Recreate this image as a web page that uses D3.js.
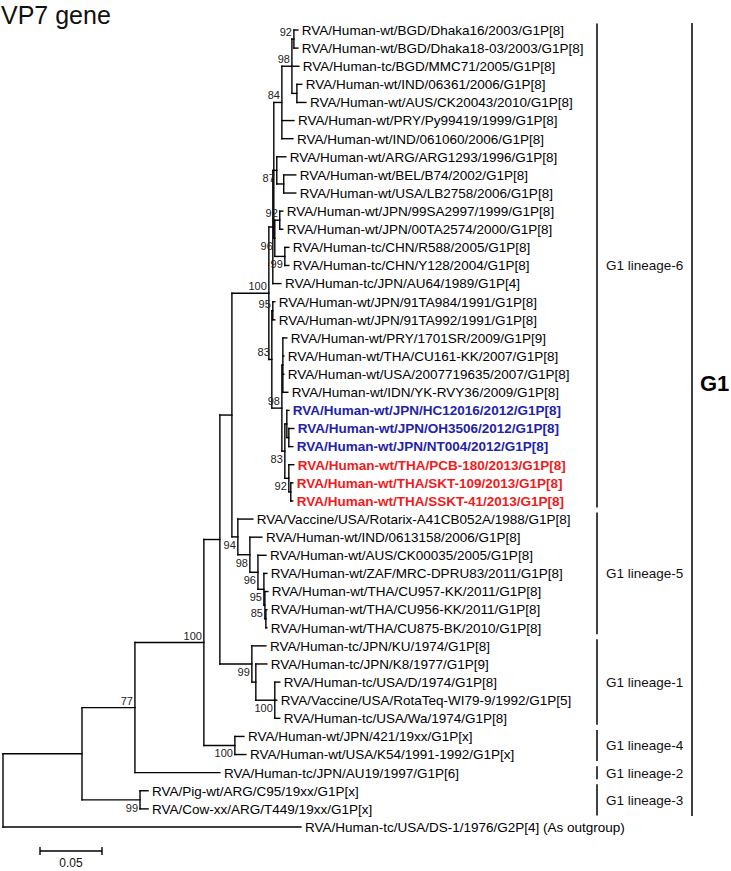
<!DOCTYPE html>
<html>
<head>
<meta charset="utf-8">
<script src="https://cdn.jsdelivr.net/npm/d3@7"></script>
<style>
  body { margin: 0; background: #fff; }
  svg { display: block; font-family: "Liberation Sans", Arial, sans-serif; }
</style>
</head>
<body>
<div id="tree"></div>
<script>
// strain names, top to bottom
var taxa = [
  "RVA/Human-wt/BGD/Dhaka16/2003/G1P[8]",
  "RVA/Human-wt/BGD/Dhaka18-03/2003/G1P[8]",
  "RVA/Human-tc/BGD/MMC71/2005/G1P[8]",
  "RVA/Human-wt/IND/06361/2006/G1P[8]",
  "RVA/Human-wt/AUS/CK20043/2010/G1P[8]",
  "RVA/Human-wt/PRY/Py99419/1999/G1P[8]",
  "RVA/Human-wt/IND/061060/2006/G1P[8]",
  "RVA/Human-wt/ARG/ARG1293/1996/G1P[8]",
  "RVA/Human-wt/BEL/B74/2002/G1P[8]",
  "RVA/Human-wt/USA/LB2758/2006/G1P[8]",
  "RVA/Human-wt/JPN/99SA2997/1999/G1P[8]",
  "RVA/Human-wt/JPN/00TA2574/2000/G1P[8]",
  "RVA/Human-tc/CHN/R588/2005/G1P[8]",
  "RVA/Human-tc/CHN/Y128/2004/G1P[8]",
  "RVA/Human-tc/JPN/AU64/1989/G1P[4]",
  "RVA/Human-wt/JPN/91TA984/1991/G1P[8]",
  "RVA/Human-wt/JPN/91TA992/1991/G1P[8]",
  "RVA/Human-wt/PRY/1701SR/2009/G1P[9]",
  "RVA/Human-wt/THA/CU161-KK/2007/G1P[8]",
  "RVA/Human-wt/USA/2007719635/2007/G1P[8]",
  "RVA/Human-wt/IDN/YK-RVY36/2009/G1P[8]",
  "RVA/Human-wt/JPN/HC12016/2012/G1P[8]",
  "RVA/Human-wt/JPN/OH3506/2012/G1P[8]",
  "RVA/Human-wt/JPN/NT004/2012/G1P[8]",
  "RVA/Human-wt/THA/PCB-180/2013/G1P[8]",
  "RVA/Human-wt/THA/SKT-109/2013/G1P[8]",
  "RVA/Human-wt/THA/SSKT-41/2013/G1P[8]",
  "RVA/Vaccine/USA/Rotarix-A41CB052A/1988/G1P[8]",
  "RVA/Human-wt/IND/0613158/2006/G1P[8]",
  "RVA/Human-wt/AUS/CK00035/2005/G1P[8]",
  "RVA/Human-wt/ZAF/MRC-DPRU83/2011/G1P[8]",
  "RVA/Human-wt/THA/CU957-KK/2011/G1P[8]",
  "RVA/Human-wt/THA/CU956-KK/2011/G1P[8]",
  "RVA/Human-wt/THA/CU875-BK/2010/G1P[8]",
  "RVA/Human-tc/JPN/KU/1974/G1P[8]",
  "RVA/Human-tc/JPN/K8/1977/G1P[9]",
  "RVA/Human-tc/USA/D/1974/G1P[8]",
  "RVA/Vaccine/USA/RotaTeq-WI79-9/1992/G1P[5]",
  "RVA/Human-tc/USA/Wa/1974/G1P[8]",
  "RVA/Human-wt/JPN/421/19xx/G1P[x]",
  "RVA/Human-wt/USA/K54/1991-1992/G1P[x]",
  "RVA/Human-tc/JPN/AU19/1997/G1P[6]",
  "RVA/Pig-wt/ARG/C95/19xx/G1P[x]",
  "RVA/Cow-xx/ARG/T449/19xx/G1P[x]",
  "RVA/Human-tc/USA/DS-1/1976/G2P[4] (As outgroup)"
];

// [node, parent, branch length]  (leaves are t + index into taxa)
var edges = [
  ["root", null, 0],
  ["X1", "root", 0.0637],
  ["N77", "X1", 0.0427],
  ["N100a", "N77", 0.0556],
  ["L651", "N100a", 0.0129],
  ["L65", "L651", 0.0097],
  ["L6", "L65", 0.0298],
  ["L6a", "L6", 0.0032],
  ["E", "L6a", 0.0008],
  ["D", "E", 0.0065],
  ["C", "D", 0.0081],
  ["A", "C", 0.0016],
  ["t0", "A", 0.0032],
  ["t1", "A", 0.0032],
  ["t2", "C", 0.0056],
  ["B", "C", 0.0040],
  ["t3", "B", 0.0040],
  ["t4", "B", 0.0073],
  ["t5", "D", 0.0097],
  ["t6", "D", 0.0089],
  ["F", "E", 0.0024],
  ["t7", "F", 0.0073],
  ["G", "F", 0.0056],
  ["t8", "G", 0.0097],
  ["t9", "G", 0.0097],
  ["H", "E", 0.0008],
  ["I", "H", 0.0040],
  ["t10", "I", 0.0024],
  ["t11", "I", 0.0024],
  ["J", "H", 0.0081],
  ["t12", "J", 0.0032],
  ["t13", "J", 0.0032],
  ["t14", "L6a", 0.0065],
  ["K", "L6", 0.0024],
  ["T91", "K", 0.0008],
  ["t15", "T91", 0.0016],
  ["t16", "T91", 0.0016],
  ["N98", "K", 0.0081],
  ["P", "N98", 0.0008],
  ["t17", "P", 0.0032],
  ["t18", "P", 0.0008],
  ["t19", "P", 0.0008],
  ["t20", "P", 0.0040],
  ["BR", "N98", 0.0024],
  ["Blue", "BR", 0.0016],
  ["t21", "Blue", 0.0016],
  ["BL2", "Blue", 0.0016],
  ["t22", "BL2", 0.0040],
  ["t23", "BL2", 0.0032],
  ["Red", "BR", 0.0032],
  ["t24", "Red", 0.0040],
  ["R2", "Red", 0.0016],
  ["t25", "R2", 0.0016],
  ["t26", "R2", 0.0016],
  ["L5", "L65", 0.0048],
  ["t27", "L5", 0.0121],
  ["L5b", "L5", 0.0097],
  ["t28", "L5b", 0.0097],
  ["L5c", "L5b", 0.0065],
  ["t29", "L5c", 0.0065],
  ["L5d", "L5c", 0.0048],
  ["t30", "L5d", 0.0024],
  ["L5f", "L5d", 0.0008],
  ["t31", "L5f", 0.0024],
  ["L5e", "L5f", 0.0008],
  ["t32", "L5e", 0.0008],
  ["t33", "L5e", 0.0008],
  ["L1", "L651", 0.0258],
  ["t34", "L1", 0.0113],
  ["L1b", "L1", 0.0032],
  ["t35", "L1b", 0.0089],
  ["L1c", "L1b", 0.0153],
  ["t36", "L1c", 0.0040],
  ["t37", "L1c", 0.0016],
  ["t38", "L1c", 0.0040],
  ["L4", "N100a", 0.0250],
  ["t39", "L4", 0.0073],
  ["t40", "L4", 0.0089],
  ["t41", "N77", 0.0685],
  ["PigCow", "X1", 0.0468],
  ["t42", "PigCow", 0.0065],
  ["t43", "PigCow", 0.0065],
  ["t44", "root", 0.2403]
];

var bootNodes  = ["A", "C", "D", "F", "I", "H", "J", "L6", "T91", "K", "N98", "BR", "Red",
                  "L5", "L5b", "L5c", "L5d", "L5f", "L1", "L1c", "L4", "N100a", "N77", "PigCow"];
var bootValues = [92, 98, 84, 87, 92, 96, 99, 100, 95, 83, 98, 83, 92,
                  94, 98, 96, 95, 85, 99, 100, 100, 100, 77, 99];

var jpnStrains = ["t21", "t22", "t23"];
var thaStrains = ["t24", "t25", "t26"];

var lineageNames = ["G1 lineage-6", "G1 lineage-5", "G1 lineage-1", "G1 lineage-4", "G1 lineage-2", "G1 lineage-3"];
var lineageFirst = [0, 27, 34, 39, 41, 42];
var lineageLast  = [26, 33, 38, 40, 41, 43];
var genotypeName = "G1", genotypeFirst = 0, genotypeLast = 43;
var scaleBarValue = 0.05;

var width = 731, height = 871;
var svg = d3.select("#tree").append("svg")
  .attr("width", width)
  .attr("height", height);

var x = d3.scaleLinear().domain([0, 0.25]).range([3, 313]);
var y = d3.scaleLinear().domain([0, taxa.length - 1]).range([30, 827]);

var root = d3.stratify()
  .id(function(d) { return d[0]; })
  .parentId(function(d) { return d[1]; })(edges);

root.eachBefore(function(n) { n.dist = n.parent ? n.parent.dist + n.data[2] : 0; });
root.leaves().forEach(function(n, i) { n.row = i; n.py = y(i); });
root.eachAfter(function(n) {
  if (n.children) n.py = (n.children[0].py + n.children[n.children.length - 1].py) / 2;
  n.px = x(n.dist);
});

var g = svg.append("g").attr("stroke", "#000").attr("stroke-width", 1.4).attr("stroke-linecap", "square");

// horizontal branches
g.selectAll("line.h")
  .data(root.descendants().filter(function(n) { return n.parent; }))
  .enter().append("line")
    .attr("class", "h")
    .attr("x1", function(n) { return n.parent.px; })
    .attr("x2", function(n) { return n.px; })
    .attr("y1", function(n) { return n.py; })
    .attr("y2", function(n) { return n.py; });

// vertical connectors
g.selectAll("line.v")
  .data(root.descendants().filter(function(n) { return n.children; }))
  .enter().append("line")
    .attr("class", "v")
    .attr("x1", function(n) { return n.px; })
    .attr("x2", function(n) { return n.px; })
    .attr("y1", function(n) { return n.children[0].py; })
    .attr("y2", function(n) { return n.children[n.children.length - 1].py; });

// leaf labels
svg.selectAll("text.leaf")
  .data(root.leaves())
  .enter().append("text")
    .attr("class", "leaf")
    .attr("x", function(n) { return n.px + 4; })
    .attr("y", function(n) { return n.py; })
    .attr("dy", "0.36em")
    .attr("font-size", "13.5px")
    .attr("font-weight", function(n) { return jpnStrains.indexOf(n.id) >= 0 || thaStrains.indexOf(n.id) >= 0 ? "bold" : null; })
    .attr("fill", function(n) {
      if (jpnStrains.indexOf(n.id) >= 0) return "#2323a8";
      if (thaStrains.indexOf(n.id) >= 0) return "#ee1c1c";
      return "#000";
    })
    .text(function(n) { return taxa[n.row]; });

// bootstrap values
var below = ["F", "H", "J", "BR", "Red", "L5", "L5b", "L5c", "L5d", "L5f", "L1", "L1c", "L4", "PigCow"];
var byId = {};
root.each(function(n) { byId[n.id] = n; });
svg.selectAll("text.boot")
  .data(bootNodes)
  .enter().append("text")
    .attr("class", "boot")
    .attr("text-anchor", "end")
    .attr("font-size", "11px")
    .attr("fill", "#222")
    .attr("x", function(id) { return byId[id].px - 2; })
    .attr("y", function(id) { return below.indexOf(id) >= 0 ? byId[id].py + 12 : byId[id].py - 3; })
    .text(function(id, i) { return bootValues[i]; });

// lineage brackets
var lin = svg.append("g");
lineageNames.forEach(function(name, i) {
  var y0 = y(lineageFirst[i]) - 6.5, y1 = y(lineageLast[i]) + 6.5;
  lin.append("line")
    .attr("x1", 597).attr("x2", 597)
    .attr("y1", y0).attr("y2", y1)
    .attr("stroke", "#000").attr("stroke-width", 1.5);
  lin.append("text")
    .attr("x", 606).attr("y", (y0 + y1) / 2)
    .attr("dy", "0.36em")
    .attr("font-size", "13.5px")
    .attr("fill", "#111")
    .text(name);
});

var gy0 = y(genotypeFirst) - 7, gy1 = y(genotypeLast) + 7;
lin.append("line")
  .attr("x1", 692).attr("x2", 692)
  .attr("y1", gy0).attr("y2", gy1)
  .attr("stroke", "#000").attr("stroke-width", 1.5);
lin.append("text")
  .attr("x", 700).attr("y", y(19.5))
  .attr("dy", "0.36em")
  .attr("font-size", "22px")
  .attr("font-weight", "bold")
  .text(genotypeName);

// title
svg.append("text")
  .attr("x", 1).attr("y", 24)
  .attr("font-size", "25px")
  .attr("fill", "#111")
  .text("VP7 gene");

// scale bar
var barX = 40, barY = 851;
var barLen = x(scaleBarValue) - x(0);
var sb = svg.append("g").attr("stroke", "#000").attr("stroke-width", 1.4);
sb.append("line").attr("x1", barX).attr("x2", barX + barLen).attr("y1", barY).attr("y2", barY);
sb.append("line").attr("x1", barX).attr("x2", barX).attr("y1", barY - 4).attr("y2", barY + 4);
sb.append("line").attr("x1", barX + barLen).attr("x2", barX + barLen).attr("y1", barY - 4).attr("y2", barY + 4);
svg.append("text")
  .attr("x", barX + barLen / 2).attr("y", 867)
  .attr("text-anchor", "middle")
  .attr("font-size", "12px")
  .attr("fill", "#111")
  .text(scaleBarValue);
</script>
</body>
</html>
